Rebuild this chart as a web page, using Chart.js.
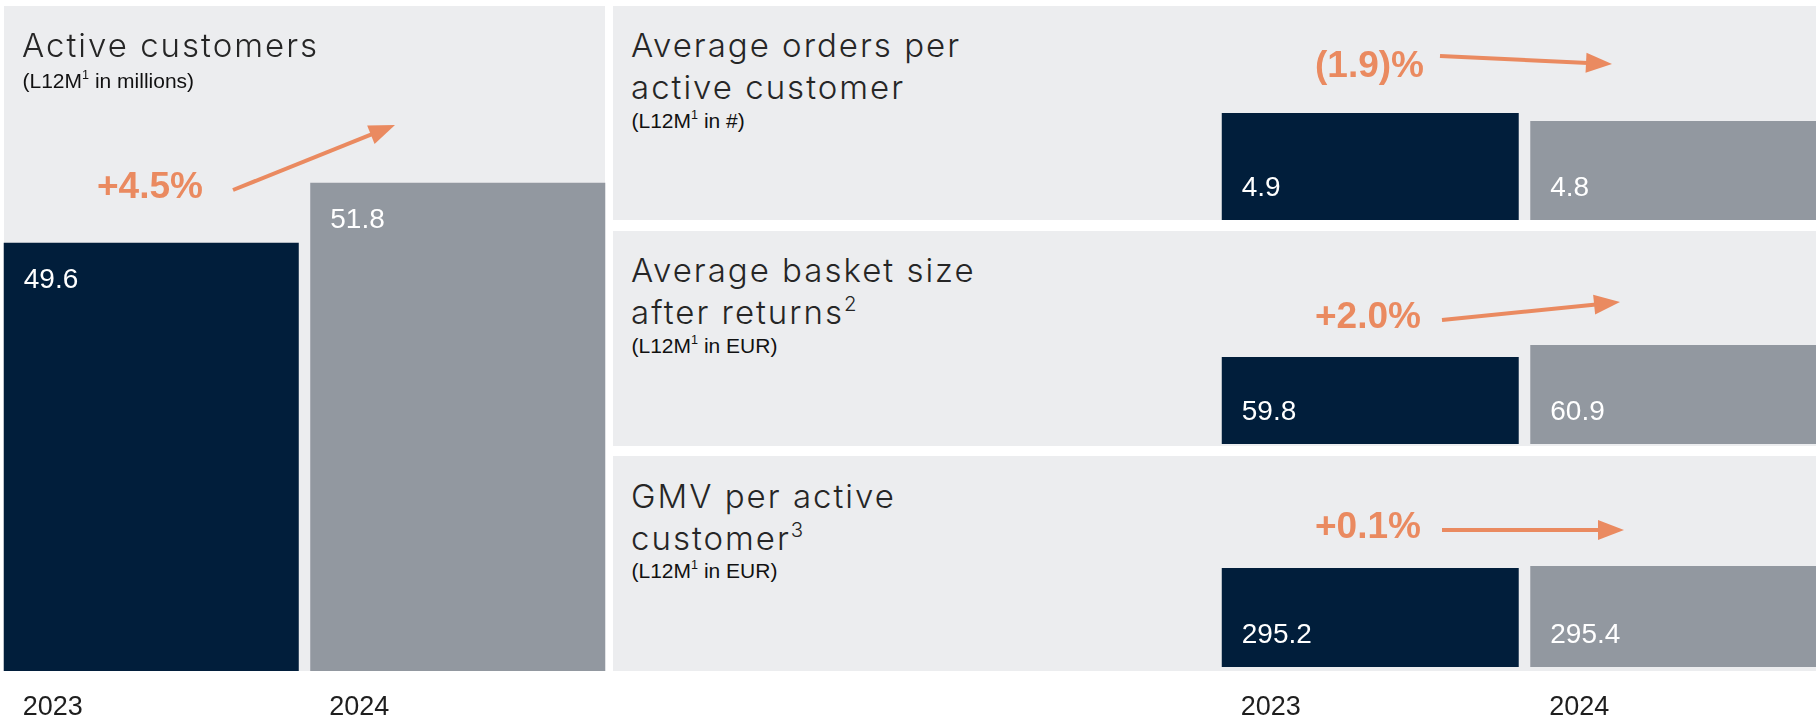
<!DOCTYPE html>
<html>
<head>
<meta charset="utf-8">
<script src="https://cdn.jsdelivr.net/npm/chart.js@4.4.1/dist/chart.umd.min.js"></script>
<style>
  html, body { margin:0; padding:0; background:#fff; }
  body { width:1816px; height:718px; overflow:hidden; position:relative; }
  .panel { position:absolute; background:#ECEDEF; }
  canvas { position:absolute; }
  .title { position:absolute; font-family:"Inter","Noto Sans",sans-serif; font-weight:350; font-size:33px; line-height:42px; letter-spacing:2px; color:#262626; white-space:nowrap; }
  .title sup { font-size:0.62em; line-height:0; vertical-align:0.62em; letter-spacing:0; }
  .sub { position:absolute; font-family:"Liberation Sans",Arial,sans-serif; font-size:21px; line-height:24px; color:#111; white-space:nowrap; }
  .sub sup { font-size:0.6em; line-height:0; vertical-align:0.7em; }
  .pct { position:absolute; font-family:"Liberation Sans",Arial,sans-serif; font-weight:bold; font-size:37px; line-height:40px; color:#EA8A60; white-space:nowrap; }
  svg { position:absolute; left:0; top:0; }
</style>
</head>
<body>
<div class="panel" style="left:4px;top:6px;width:601px;height:665px"></div>
<div class="panel" style="left:613px;top:6px;width:1203px;height:214px"></div>
<div class="panel" style="left:613px;top:231px;width:1203px;height:215px"></div>
<div class="panel" style="left:613px;top:456px;width:1203px;height:215px"></div>

<canvas id="cLeft" width="613" height="712" style="left:-2px;top:6px;width:613px;height:712px"></canvas>
<canvas id="cOrders" width="617" height="214" style="left:1216px;top:6px;width:617px;height:214px"></canvas>
<canvas id="cBasket" width="617" height="213" style="left:1216px;top:231px;width:617px;height:213px"></canvas>
<canvas id="cGmv" width="617" height="262" style="left:1216px;top:456px;width:617px;height:262px"></canvas>

<div class="title" style="left:22px;top:23.7px">Active customers</div>
<div class="sub" style="left:22.5px;top:68.7px">(L12M<sup>1</sup> in millions)</div>

<div class="title" style="left:631px;top:23.5px">Average orders per<br>active customer</div>
<div class="sub" style="left:631.5px;top:108.7px">(L12M<sup>1</sup> in #)</div>

<div class="title" style="left:631px;top:248.5px">Average basket size<br>after returns<sup>2</sup></div>
<div class="sub" style="left:631.5px;top:333.7px">(L12M<sup>1</sup> in EUR)</div>

<div class="title" style="left:631px;top:474.5px">GMV per active<br>customer<sup>3</sup></div>
<div class="sub" style="left:631.5px;top:558.7px">(L12M<sup>1</sup> in EUR)</div>

<div class="pct" id="p0" style="left:97px;top:165.5px"></div>
<div class="pct" id="p1" style="left:1315px;top:44.5px"></div>
<div class="pct" id="p2" style="left:1315px;top:295.5px"></div>
<div class="pct" id="p3" style="left:1315px;top:505.5px"></div>

<svg id="arrows" width="1816" height="718"></svg>

<script>
// ---- data ----
const years = ['2023', '2024'];
const activeCustomers = [49.6, 51.8];
const ordersPerCustomer = [4.9, 4.8];
const basketSize = [59.8, 60.9];
const gmvPerCustomer = [295.2, 295.4];
const changes = ['+4.5%', '(1.9)%', '+2.0%', '+0.1%'];

// ---- styles ----
const NAVY = '#011E3B';
const GREY = '#9298A0';
const ORANGE = '#EA8A60';

changes.forEach((c, i) => { document.getElementById('p' + i).textContent = c; });

// arrows (annotation layout)
const arrowDefs = [
  [233, 190, 395, 125],
  [1440, 56, 1612, 64],
  [1442, 320, 1620, 302],
  [1442, 530, 1624, 530]
];
const svg = document.getElementById('arrows');
const NS = 'http://www.w3.org/2000/svg';
arrowDefs.forEach(([x1, y1, x2, y2]) => {
  const dx = x2 - x1, dy = y2 - y1, len = Math.hypot(dx, dy);
  const ux = dx / len, uy = dy / len;
  const headL = 26, headW = 10;
  const bx = x2 - ux * headL, by = y2 - uy * headL;
  const line = document.createElementNS(NS, 'line');
  line.setAttribute('x1', x1); line.setAttribute('y1', y1);
  line.setAttribute('x2', bx + ux * 2); line.setAttribute('y2', by + uy * 2);
  line.setAttribute('stroke', ORANGE); line.setAttribute('stroke-width', 4);
  svg.appendChild(line);
  const poly = document.createElementNS(NS, 'polygon');
  const pts = [[x2, y2], [bx - uy * headW, by + ux * headW], [bx + uy * headW, by - ux * headW]];
  poly.setAttribute('points', pts.map(p => p.join(',')).join(' '));
  poly.setAttribute('fill', ORANGE);
  svg.appendChild(poly);
});

// ---- plugin: value labels & year labels ----
const barLabels = {
  id: 'barLabels',
  afterDatasetsDraw(chart, args, opts) {
    const ctx = chart.ctx;
    const meta = chart.getDatasetMeta(0);
    const values = chart.data.datasets[0].data;
    ctx.save();
    ctx.textAlign = 'left';
    ctx.textBaseline = 'alphabetic';
    meta.data.forEach((bar, i) => {
      const p = bar.getProps(['x', 'y', 'width'], true);
      const left = p.x - p.width / 2;
      ctx.font = '28px "Liberation Sans", Arial, sans-serif';
      ctx.fillStyle = '#FFFFFF';
      const y = opts.anchor === 'top' ? p.y + 45 : chart.chartArea.bottom - 24;
      ctx.fillText(values[i].toFixed(1), left + 20, y);
      if (opts.showYears) {
        ctx.font = '27px "Liberation Sans", Arial, sans-serif';
        ctx.fillStyle = '#1E1E1E';
        ctx.fillText(chart.data.labels[i], left + 19, chart.chartArea.bottom + opts.yearOffset);
      }
    });
    ctx.restore();
  }
};

function makeChart(id, values, min, max, padBottom, labelOpts) {
  return new Chart(document.getElementById(id), {
    type: 'bar',
    data: {
      labels: years,
      datasets: [{
        data: values,
        backgroundColor: [NAVY, GREY],
        borderWidth: 0,
        barPercentage: 0.9626,
        categoryPercentage: 1.0
      }]
    },
    options: {
      responsive: false,
      animation: false,
      devicePixelRatio: 1,
      layout: { padding: { left: 0, right: 0, top: 0, bottom: padBottom } },
      plugins: { legend: { display: false }, tooltip: { enabled: false }, barLabels: labelOpts },
      scales: {
        x: { display: false },
        y: { display: false, min: min, max: max }
      }
    },
    plugins: [barLabels]
  });
}

makeChart('cLeft', activeCustomers, 33.9, 58.28, 47, { anchor: 'top', showYears: true, yearOffset: 44 });
makeChart('cOrders', ordersPerCustomer, 3.5625, 6.2375, 0, { anchor: 'bottom', showYears: false });
makeChart('cBasket', basketSize, 51.825, 71.35, 0, { anchor: 'bottom', showYears: false });
makeChart('cGmv', gmvPerCustomer, 285.3, 306.4, 51, { anchor: 'bottom', showYears: true, yearOffset: 48 });
</script>
</body>
</html>
